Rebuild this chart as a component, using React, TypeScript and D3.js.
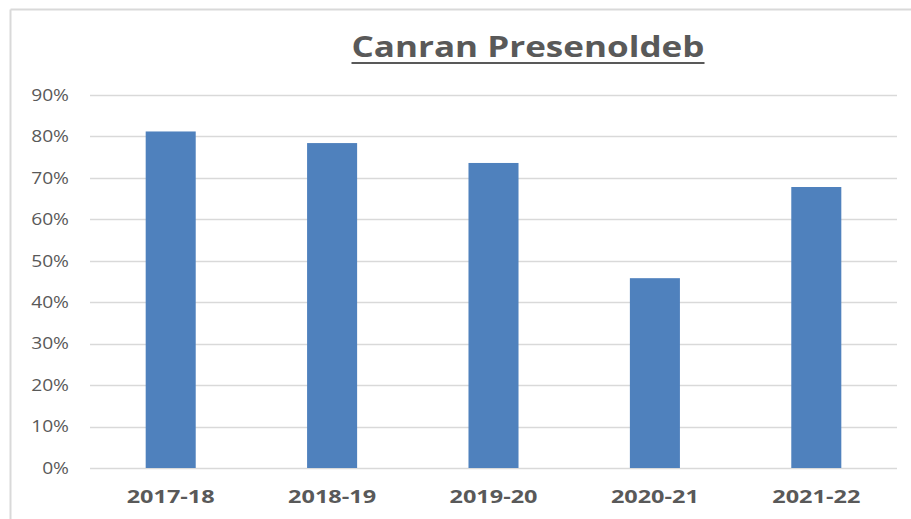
import * as d3 from "d3";
import { useEffect, useRef } from "react";

const categories = ["2017-18", "2018-19", "2019-20", "2020-21", "2021-22"];
const values = [0.812, 0.784, 0.736, 0.458, 0.678];
const yTicks = [0, 0.1, 0.2, 0.3, 0.4, 0.5, 0.6, 0.7, 0.8, 0.9];
const title = "Canran Presenoldeb";

export default function App() {
  const svgRef = useRef<SVGSVGElement>(null);
  const width = 911;
  const height = 519;

  useEffect(() => {
    const svg = d3.select(svgRef.current);
    svg.selectAll("*").remove();

    const left = 90, right = 897, top = 95, bottom = 468;
    const font = "Open Sans, sans-serif";

    const x = d3.scaleBand().domain(categories).range([left, right]).paddingInner(0.69).paddingOuter(0.345);
    const y = d3.scaleLinear().domain([0, 0.9]).range([bottom, top]);

    // the source picture is squashed sideways, so text gets widened
    const stretch = (sel: any, k: number) => sel.each(function (this: SVGTextElement) {
      const w = this.getComputedTextLength();
      this.setAttribute("textLength", String(w * k));
      this.setAttribute("lengthAdjust", "spacingAndGlyphs");
    });

    svg.append("rect").attr("width", width).attr("height", height).attr("fill", "#fff");

    // frame
    svg.append("line").attr("x1", 10.5).attr("x2", width).attr("y1", 9.5).attr("y2", 9.5)
      .attr("stroke", "#d9d9d9").attr("stroke-width", 2);
    svg.append("line").attr("x1", 10.5).attr("x2", 10.5).attr("y1", 9.5).attr("y2", height)
      .attr("stroke", "#d9d9d9").attr("stroke-width", 2);

    // gridlines
    svg.append("g").selectAll("line").data(yTicks).join("line")
      .attr("x1", left).attr("x2", right)
      .attr("y1", d => Math.round(y(d)) + 0.5).attr("y2", d => Math.round(y(d)) + 0.5)
      .attr("stroke", "#d9d9d9").attr("stroke-width", 1.5);

    const yl = svg.append("g").selectAll("text").data(yTicks).join("text")
      .attr("x", 69).attr("y", d => y(d))
      .attr("dy", "0.36em")
      .attr("text-anchor", "end")
      .attr("font-family", font)
      .attr("font-size", 16)
      .attr("fill", "#595959")
      .text(d => d3.format(".0%")(d));
    stretch(yl, 1.2);

    svg.append("g").selectAll("rect").data(values).join("rect")
      .attr("x", (d, i) => x(categories[i])!)
      .attr("width", x.bandwidth())
      .attr("y", d => y(d))
      .attr("height", d => bottom - y(d))
      .attr("fill", "#4f81bd");

    svg.append("g").selectAll("text").data(categories).join("text")
      .attr("x", d => x(d)! + x.bandwidth() / 2)
      .attr("y", 503)
      .attr("text-anchor", "middle")
      .attr("font-family", font)
      .attr("font-weight", "bold")
      .attr("font-size", 18)
      .attr("fill", "#595959")
      .attr("textLength", 88)
      .attr("lengthAdjust", "spacingAndGlyphs")
      .text(d => d);

    svg.append("text")
      .attr("x", 528).attr("y", 57)
      .attr("text-anchor", "middle")
      .attr("font-family", font)
      .attr("font-weight", "bold")
      .attr("font-size", 29)
      .attr("fill", "#595959")
      .attr("textLength", 353)
      .attr("lengthAdjust", "spacingAndGlyphs")
      .text(title);
    svg.append("line").attr("x1", 528 - 176.5).attr("x2", 528 + 176.5)
      .attr("y1", 63).attr("y2", 63).attr("stroke", "#595959").attr("stroke-width", 2);
  }, []);

  return (
    <svg ref={svgRef} width={width} height={height}
      style={{ position: "absolute", left: 0, top: 0, display: "block" }} />
  );
}
